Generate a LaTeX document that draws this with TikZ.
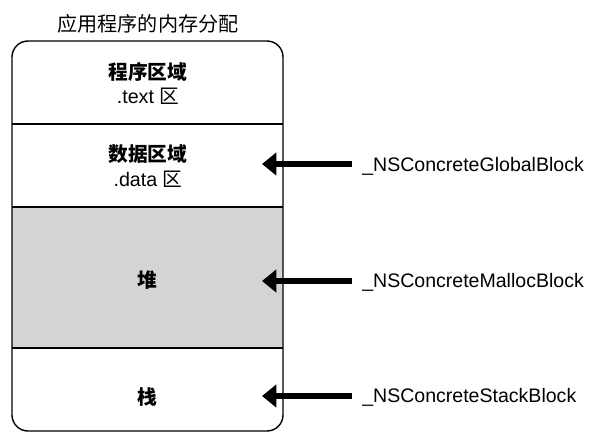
\documentclass[tikz,border=0pt]{standalone}
\usepackage{fontspec}
\setmainfont{Liberation Sans}
\newfontfamily\cjk{Noto Sans CJK SC}
\usetikzlibrary{positioning}
\usetikzlibrary{arrows.meta}
\definecolor{HeapGray}{RGB}{212, 212, 212}

\begin{document}
\begin{tikzpicture}[
  x=0.025cm, y=-0.025cm,
  seg/.style={font=\fontsize{14}{17}\selectfont\cjk\bfseries, align=center, inner sep=1pt},
  sub/.style={font=\fontsize{14}{17}\selectfont, inner sep=1pt},
  lab/.style={font=\fontsize{13.9}{16}\selectfont, anchor=west, inner sep=0pt},
  ar/.style={-{Triangle[length=3.6mm,width=5.6mm]}, line width=4.2pt, shorten <=0.25cm}
]
\useasboundingbox (0,0) rectangle (600,441);
\fill[HeapGray] (12,207) rectangle (283,348);
\draw[line width=1pt, rounded corners=0.4cm] (12,431) -- (12,41) -- (283,41) -- (283,431) -- cycle;
\draw[line width=1pt] (12,124) -- (283,124);
\draw[line width=1pt] (12,207) -- (283,207);
\draw[line width=1pt] (12,348) -- (283,348);

\node[font=\fontsize{14.3}{17}\selectfont\cjk] (title) at (148,24) {应用程序的内存分配};

\node[seg] (text)  at (148,72)  {程序区域};
\node[sub] (textsub) at (148,96) {.text {\cjk 区}};
\node[seg] (data)  at (148,154) {数据区域};
\node[sub] (datasub) at (148,179) {.data {\cjk 区}};
\node[seg] (heap)  at (147,280) {堆};
\node[seg] (stack) at (147,397) {栈};

\node[lab] (glb) at (362,166) {\_NSConcreteGlobalBlock};
\node[lab] (mal) at (362,282) {\_NSConcreteMallocBlock};
\node[lab] (stk) at (362,397) {\_NSConcreteStackBlock};

\coordinate (tipdata)  at (262,164);
\coordinate (tipheap)  at (262,281);
\coordinate (tipstack) at (262,396);
\draw[ar] (glb.west |- tipdata) -- (tipdata);
\draw[ar] (mal.west |- tipheap) -- (tipheap);
\draw[ar] (stk.west |- tipstack) -- (tipstack);
\end{tikzpicture}
\end{document}
